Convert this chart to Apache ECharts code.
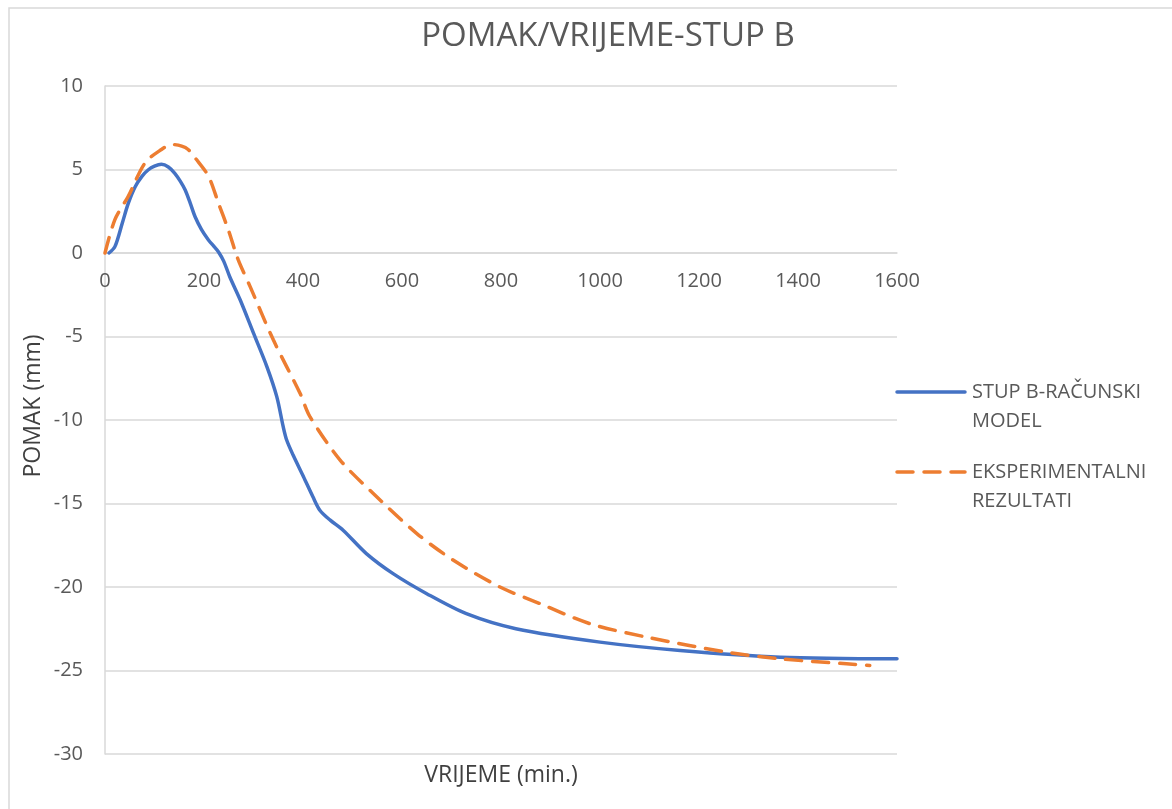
<!DOCTYPE html>
<html>
<head>
<meta charset="utf-8">
<title>POMAK/VRIJEME-STUP B</title>
<script src="https://cdn.jsdelivr.net/npm/echarts@6/dist/echarts.min.js"></script>
<style>
  html, body { margin: 0; padding: 0; background: #fff; }
  #chart { width: 1172px; height: 809px; }
</style>
</head>
<body>
<div id="chart"></div>
<script>
// Time (min.) and displacement (mm) for the computational model of column B
const modelTime = [8, 20, 35, 47, 61, 75, 87, 100, 114, 128, 141, 152, 162, 172, 182, 195, 209, 220, 229, 240,
  252, 273, 300, 327, 347, 360, 367, 380, 401, 420, 434, 455, 481, 528, 582, 650, 730, 830, 1000, 1162, 1364, 1600];
const modelDisp = [0, 0.38, 1.8, 2.97, 3.97, 4.6, 4.97, 5.2, 5.31, 5.15, 4.77, 4.3, 3.77, 3.0, 2.17, 1.4, 0.78, 0.4, 0.08, -0.5,
  -1.42, -2.8, -4.8, -6.8, -8.6, -10.4, -11.2, -12.1, -13.4, -14.6, -15.4, -16.0, -16.6, -18.0, -19.2, -20.4, -21.6, -22.5, -23.3, -23.8, -24.2, -24.3];

// Time (min.) and displacement (mm) measured in the experiment
const expTime = [0, 20, 47, 81, 114, 135, 155, 168, 182, 209, 229, 249, 269, 293, 340, 394, 414, 475, 542, 630,
  704, 798, 879, 980, 1094, 1256, 1364, 1498, 1545];
const expDisp = [0, 2.0, 3.4, 5.4, 6.2, 6.5, 6.4, 6.2, 5.7, 4.6, 3.0, 1.4, -0.4, -2.0, -5.2, -8.4, -9.8, -12.4, -14.4, -16.8,
  -18.4, -20.0, -21.0, -22.2, -23.0, -23.9, -24.3, -24.6, -24.7];

const seriesNames = ['STUP B-RAČUNSKI\nMODEL', 'EKSPERIMENTALNI\nREZULTATI'];
const xTicks = { min: 0, max: 1600, step: 200 };
const yTicks = { min: -30, max: 10, step: 5 };

const pairs = (xs, ys) => xs.map((x, i) => [x, ys[i]]);

const FONT = '"Open Sans", "Noto Sans", sans-serif';
const BLUE = '#4472C4';
const ORANGE = '#ED7D31';
const GRID = '#d9d9d9';
const LABEL = '#595959';

const W = 1172, H = 809;
const gridBox = { left: 105, right: 275, top: 86, bottom: 55 };
const plotH = H - gridBox.top - gridBox.bottom;
// lift the time axis from the bottom edge up to displacement = 0
const zeroLift = plotH * (0 - yTicks.min) / (yTicks.max - yTicks.min);
const plotCenterX = gridBox.left + (W - gridBox.left - gridBox.right) / 2;

const chart = echarts.init(document.getElementById('chart'));

chart.setOption({
  backgroundColor: '#ffffff',
  animation: false,
  title: {
    text: 'POMAK/VRIJEME-STUP B',
    left: 603,
    top: 15,
    textAlign: 'center',
    textStyle: { fontFamily: FONT, fontSize: 33, fontWeight: 'normal', color: LABEL }
  },
  grid: Object.assign({ containLabel: false }, gridBox),
  xAxis: {
    type: 'value',
    position: 'bottom',
    offset: -zeroLift,
    min: xTicks.min,
    max: xTicks.max,
    interval: xTicks.step,
    axisLine: { show: true, onZero: false, lineStyle: { color: GRID, width: 1.5 } },
    axisTick: { show: false },
    splitLine: { show: false },
    axisLabel: { fontFamily: FONT, fontSize: 20, color: LABEL, margin: 18, formatter: v => String(v) }
  },
  yAxis: {
    type: 'value',
    min: yTicks.min,
    max: yTicks.max,
    interval: yTicks.step,
    axisLine: { show: true, onZero: false, lineStyle: { color: GRID, width: 1.5 } },
    axisTick: { show: false },
    splitLine: { show: true, lineStyle: { color: GRID, width: 1.5 } },
    axisLabel: { fontFamily: FONT, fontSize: 20, color: LABEL, margin: 22, formatter: v => String(v) }
  },
  series: [
    {
      name: seriesNames[0],
      type: 'line',
      data: pairs(modelTime, modelDisp),
      smooth: 0.3,
      showSymbol: false,
      symbol: 'none',
      z: 3,
      lineStyle: { color: BLUE, width: 3.5, cap: 'round' }
    },
    {
      name: seriesNames[1],
      type: 'line',
      data: pairs(expTime, expDisp),
      smooth: 0.3,
      showSymbol: false,
      symbol: 'none',
      z: 4,
      lineStyle: { color: ORANGE, width: 3.5, type: [16, 11], cap: 'round' }
    }
  ],
  graphic: [
    // frame around the chart
    { type: 'rect', shape: { x: 9, y: 8, width: 1200, height: 820 }, style: { fill: null, stroke: GRID, lineWidth: 1.5 }, silent: true },
    // axis titles
    {
      type: 'text', x: plotCenterX, y: 775,
      style: { text: 'VRIJEME (min.)', font: '23px ' + FONT, fill: '#404040', align: 'center', verticalAlign: 'middle' }
    },
    {
      type: 'text', x: 33, y: 406, rotation: Math.PI / 2,
      style: { text: 'POMAK (mm)', font: '23px ' + FONT, fill: '#404040', align: 'center', verticalAlign: 'middle' }
    },
    // legend
    { type: 'line', shape: { x1: 897, y1: 392, x2: 965, y2: 392 }, style: { stroke: BLUE, lineWidth: 3.5, lineCap: 'round' } },
    { type: 'text', x: 972, y: 377.5, style: { text: seriesNames[0], font: '20px ' + FONT, fill: LABEL, lineHeight: 29 } },
    { type: 'line', shape: { x1: 897, y1: 472, x2: 965, y2: 472 }, style: { stroke: ORANGE, lineWidth: 3.5, lineDash: [16, 11], lineCap: 'round' } },
    { type: 'text', x: 972, y: 457.5, style: { text: seriesNames[1], font: '20px ' + FONT, fill: LABEL, lineHeight: 29 } }
  ]
});
</script>
</body>
</html>
